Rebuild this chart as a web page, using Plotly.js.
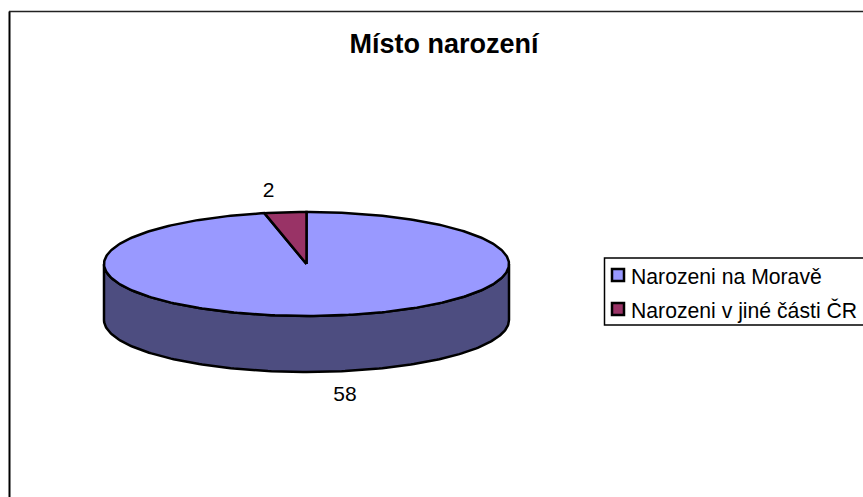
<!DOCTYPE html>
<html><head><meta charset="utf-8">
<script src="https://cdn.plot.ly/plotly-3.0.1.min.js"></script>
<style>html,body{margin:0;padding:0;background:#fff;overflow:hidden}</style>
</head><body><div id="chart" style="width:863px;height:497px"></div>
<script>
const titleText = 'Místo narození';
const categories = ['Narozeni na Moravě', 'Narozeni v jiné části ČR'];
const values = [58, 2];
const colors = ['#9999ff', '#993366'];
const wallColor = '#4d4d80';
const outline = '#000000';
const fontFamily = 'Liberation Sans, Arial, sans-serif';

// Page geometry of the tilted pie (pixels) used only to set up the axes
const W = 863, H = 497, cx = 306.5, cy = 264, rx = 202.5, ry = 52, depthPx = 56;
const depth = depthPx / ry;
const toX = px => (px - cx) / rx, toY = py => (cy - py) / ry;
const ellipse = (deg, dy = 0) => {
  const r = deg * Math.PI / 180;
  return [Math.sin(r), Math.cos(r) - dy];
};
const total = values.reduce((a, b) => a + b, 0);
const traces = [];

// Side wall: front half of the rim, extruded downward
{
  const xs = [], ys = [];
  for (let d = 270; d >= 90; d--) { const p = ellipse(d); xs.push(p[0]); ys.push(p[1]); }
  for (let d = 90; d <= 270; d++) { const p = ellipse(d, depth); xs.push(p[0]); ys.push(p[1]); }
  xs.push(xs[0]); ys.push(ys[0]);
  traces.push({type:'scatter', mode:'lines', x:xs, y:ys, fill:'toself', fillcolor:wallColor,
    line:{color:outline, width:2.5}, hoverinfo:'skip', showlegend:false});
}
// Top face slices
let start = 0;
values.forEach((v, i) => {
  const sweep = v / total * 360, xs = [0], ys = [0];
  for (let k = 0; k <= Math.ceil(sweep); k++) {
    const p = ellipse(start + sweep * k / Math.ceil(sweep)); xs.push(p[0]); ys.push(p[1]);
  }
  xs.push(0); ys.push(0);
  traces.push({type:'scatter', mode:'lines', x:xs, y:ys, fill:'toself', fillcolor:colors[i],
    line:{color:outline, width:2.5}, hoverinfo:'skip', showlegend:false});
  start += sweep;
});

// Data labels
traces.push({type:'scatter', mode:'text', x:[toX(345), toX(268.5)], y:[toY(395.5), toY(191.5)], text:values.map(String),
  textposition:'middle center', textfont:{family:fontFamily, size:21, color:'#000'},
  hoverinfo:'skip', showlegend:false});

// Legend swatches (the legend box runs off the right edge of the page)
const legendRows = [275, 309];
traces.push({type:'scatter', mode:'markers', x:categories.map(() => toX(618)), y:legendRows.map(toY),
  marker:{symbol:'square', size:12, color:colors, line:{color:outline, width:2.5}},
  hoverinfo:'skip', showlegend:false});

const layout = {
  width:W, height:H, margin:{l:0,r:0,t:0,b:0}, paper_bgcolor:'#fff', plot_bgcolor:'#fff',
  font:{family:fontFamily, color:'#000'},
  title:{text:titleText, x:444/W, xanchor:'center', y:1-44/H, yanchor:'middle',
    font:{size:27, family:fontFamily, weight:700, color:'#000'}},
  xaxis:{visible:false, range:[-cx/rx, (W-cx)/rx], fixedrange:true},
  yaxis:{visible:false, range:[-(H-cy)/ry, cy/ry], fixedrange:true},
  annotations: categories.map((c, i) => ({text:c, xref:'x', yref:'y', x:toX(629), y:toY(legendRows[i] + 1),
    xanchor:'left', yanchor:'middle', showarrow:false, font:{size:21.2, family:fontFamily, color:'#000'}})),
  shapes:[
    {type:'line', xref:'paper', yref:'paper', x0:9.5/W, x1:9.5/W, y0:0, y1:1-11.5/H, line:{color:'#000', width:2}},
    {type:'line', xref:'paper', yref:'paper', x0:9/W, x1:1, y0:1-11.5/H, y1:1-11.5/H, line:{color:'#222', width:1.5}},
    {type:'rect', xref:'paper', yref:'paper', x0:604.5/W, x1:1.01, y0:1-258/H, y1:1-325/H, line:{color:'#000', width:1.5}, layer:'below'}
  ],
  showlegend:false
};
Plotly.newPlot('chart', traces, layout, {displayModeBar:false, staticPlot:true});
</script></body></html>
